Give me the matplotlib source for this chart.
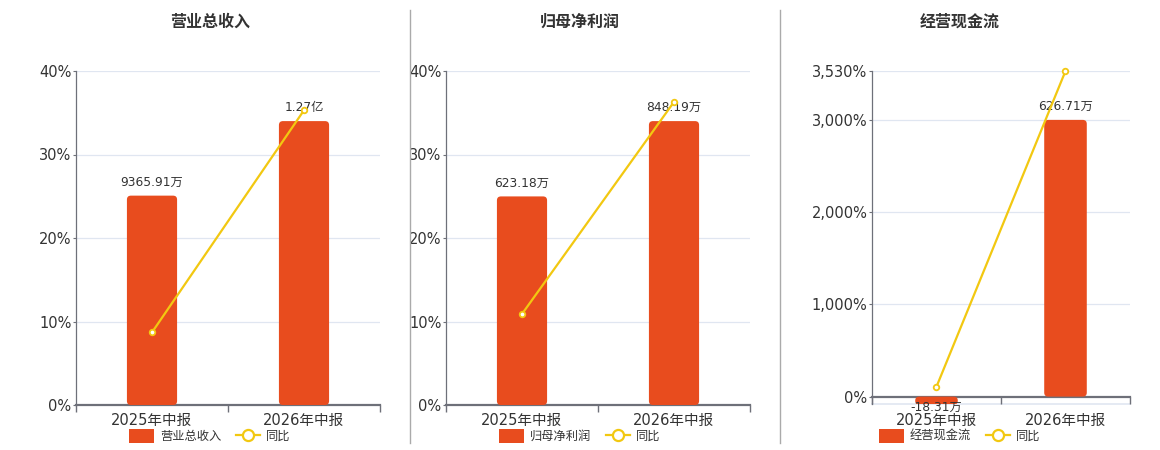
import matplotlib
matplotlib.use("Agg")
import matplotlib.pyplot as plt
from matplotlib.patches import FancyBboxPatch, Patch
from matplotlib.lines import Line2D
import matplotlib.ticker as mticker

plt.rcParams['font.family'] = ['DejaVu Sans', 'Noto Sans CJK SC']

categories = ["2025年中报", "2026年中报"]

titles = ["营业总收入", "归母净利润", "经营现金流"]
bar_values = [[9365.91, 12700.0], [623.18, 848.19], [-18.31, 626.71]]
bar_labels = [["9365.91万", "1.27亿"], ["623.18万", "848.19万"], ["-18.31万", "626.71万"]]
yoy_values = [[8.7, 35.3], [10.9, 36.3], [108.0, 3530.0]]
y_ticks = [[0, 10, 20, 30, 40], [0, 10, 20, 30, 40], [0, 1000, 2000, 3000, 3530]]
y_limits = [(0, 40), (0, 40), (-80, 3530)]

BAR = "#E84C1E"
LINE = "#F2C811"
GRID = "#E0E6F1"
AXIS = "#6E7079"
TEXT = "#333333"

W, H = 1160, 450
fig = plt.figure(figsize=(W / 100, H / 100), dpi=100)

# px boxes: left, right, top, bottom
boxes = [(76, 380, 71, 405), (446, 750, 71, 405), (872, 1130, 71, 404)]
centers = [210, 580, 960]


def fr(l, r, t, b):
    return [l / W, 1 - b / H, (r - l) / W, (b - t) / H]


for i in range(3):
    l, r, t, b = boxes[i]
    ax = fig.add_axes(fr(l, r, t, b))
    ylo, yhi = y_limits[i]
    ax.set_ylim(ylo, yhi)
    ax.set_xlim(-0.5, 1.5)
    ax.set_yticks(y_ticks[i])
    ax.yaxis.set_major_formatter(mticker.FuncFormatter(lambda v, p: f"{int(v):,}%"))
    ax.tick_params(axis='y', length=2.5, color=AXIS, labelsize=10.5, labelcolor=TEXT, pad=0.8)
    for yt in y_ticks[i]:
        if yt != 0:
            ax.axhline(yt, color=GRID, lw=0.9, zorder=0)
    ax.spines['top'].set_visible(False)
    ax.spines['right'].set_visible(False)
    ax.spines['left'].set_color(AXIS)
    ax.spines['left'].set_linewidth(0.9)
    ax.spines['bottom'].set_color(AXIS)
    ax.spines['bottom'].set_linewidth(1.6)
    ax.set_xticks([0, 1])
    ax.set_xticklabels(categories)
    ax.set_xticks([-0.5, 0.5, 1.5], minor=True)
    ax.tick_params(axis='x', which='major', length=0, labelsize=10.5, labelcolor=TEXT, pad=6)
    ax.tick_params(axis='x', which='minor', length=5, color=AXIS, width=1)
    if ylo < 0:
        ax.spines['bottom'].set_position(('data', 0))
        ax.tick_params(axis='x', which='major', pad=11.5)
        ax.axhline(ylo, color=GRID, lw=1.2, zorder=0, clip_on=False)

    # bar axis
    axb = ax.twinx()
    axb.set_xlim(-0.5, 1.5)
    vmax = max(bar_values[i])
    if ylo < 0:
        k = vmax / y_ticks[i][3]
        axb.set_ylim(ylo * k, yhi * k)
    else:
        axb.set_ylim(0, vmax / 0.85)
    axb.axis('off')
    bars = axb.bar(range(2), bar_values[i], width=0.33, color=BAR, zorder=2)
    # rounded corners
    px_per_x = (r - l) / 2.0
    b_lo, b_hi = axb.get_ylim()
    px_per_y = (b - t) / (b_hi - b_lo)
    aspect = px_per_x / px_per_y
    rad = 4.0 / px_per_x
    for rect in bars:
        x0, y0 = rect.get_x(), rect.get_y()
        w, h = rect.get_width(), rect.get_height()
        if h < 0:
            y0, h = y0 + h, -h
        rect.set_visible(False)
        p = FancyBboxPatch((x0, y0), w, h,
                           boxstyle=f"round,pad=0,rounding_size={rad}",
                           mutation_aspect=aspect, facecolor=BAR, edgecolor='none', zorder=2)
        axb.add_patch(p)
    for j, (v, lab) in enumerate(zip(bar_values[i], bar_labels[i])):
        if v >= 0:
            axb.annotate(lab, (j, v), xytext=(0, 5), textcoords='offset points',
                         ha='center', va='bottom', fontsize=8.8, color=TEXT, zorder=5,
                         annotation_clip=False)
        else:
            axb.annotate(lab, (j, v), xytext=(0, 3), textcoords='offset points',
                         ha='center', va='top', fontsize=8.8, color=TEXT, zorder=5,
                         annotation_clip=False)

    # line axis
    axl = ax.twinx()
    axl.set_xlim(-0.5, 1.5)
    axl.set_ylim(ylo, yhi)
    axl.axis('off')
    axl.plot(range(2), yoy_values[i], color=LINE, lw=1.6, marker='o', ms=4,
             mfc='white', mec=LINE, mew=1.3, zorder=4, clip_on=False)

    fig.text(centers[i] / W, 1 - 22 / H, titles[i], ha='center', va='center',
             fontsize=11.5, fontweight='bold', color=TEXT)

    handles = [Patch(facecolor=BAR, edgecolor='none', label=titles[i]),
               Line2D([0], [0], color=LINE, lw=1.6, marker='o', ms=8, mfc='white',
                      mec=LINE, mew=1.6, label="同比")]
    fig.legend(handles=handles, loc='center', bbox_to_anchor=(centers[i] / W, 1 - 436 / H),
               ncol=2, frameon=False, fontsize=8.8, handlelength=2.0, handleheight=1.4,
               columnspacing=1.2, handletextpad=0.5, labelcolor=TEXT)

for xs in (410, 780):
    fig.add_artist(Line2D([xs / W, xs / W], [1 - 443 / H, 1 - 10 / H], color="#AAAAAA", lw=1))

fig.savefig("out.png", dpi=100, facecolor='white')
